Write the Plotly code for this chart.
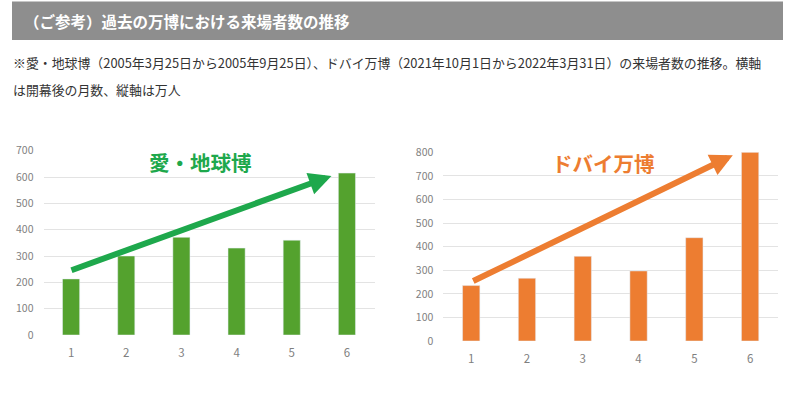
import plotly.graph_objects as go

months = [1, 2, 3, 4, 5, 6]
aichi_visitors = [213, 300, 371, 330, 360, 615]
dubai_visitors = [235, 266, 359, 297, 438, 800]
aichi_ticks = [0, 100, 200, 300, 400, 500, 600, 700]
dubai_ticks = [0, 100, 200, 300, 400, 500, 600, 700, 800]

header_text = "（ご参考）過去の万博における来場者数の推移"
note_line1 = "※愛・地球博（2005年3月25日から2005年9月25日）、ドバイ万博（2021年10月1日から2022年3月31日）の来場者数の推移。横軸"
note_line2 = "は開幕後の月数、縦軸は万人"
aichi_label = "愛・地球博"
dubai_label = "ドバイ万博"

GREEN_BAR = "#54A22E"
GREEN_TXT = "#1EA84C"
ORANGE = "#ED7D31"
FONT = "Noto Sans CJK JP"
W, H = 800, 397

def px_x(p):
    return p / W

def px_y(p):
    return 1 - p / H

fig = go.Figure()
fig.add_trace(go.Bar(x=months, y=aichi_visitors, marker_color=GREEN_BAR, width=0.31,
                     xaxis="x", yaxis="y", showlegend=False, hoverinfo="skip"))
fig.add_trace(go.Bar(x=months, y=dubai_visitors, marker_color=ORANGE, width=0.31,
                     xaxis="x2", yaxis="y2", showlegend=False, hoverinfo="skip"))

xcommon = dict(showline=False, zeroline=False, ticks="", automargin=False,
               showgrid=False, ticklabelstandoff=9,
               tickfont=dict(family=FONT, size=11.5, color="#7f7f7f"))
ycommon = dict(showline=False, zeroline=False, ticks="", automargin=False,
               showgrid=True, gridcolor="#e3e3e3", gridwidth=1, ticklabelstandoff=9,
               tickfont=dict(family=FONT, size=10.5, color="#7f7f7f"))
fig.update_layout(
    width=W, height=H,
    margin=dict(l=0, r=0, t=0, b=0, pad=0),
    paper_bgcolor="white", plot_bgcolor="white",
    font=dict(family=FONT),
    xaxis=dict(domain=[px_x(43.5), px_x(374.5)], range=[0.5, 6.5], tickvals=months,
               anchor="y", **xcommon),
    yaxis=dict(domain=[px_y(335), px_y(150.7)], range=[0, 700], tickvals=aichi_ticks,
               anchor="x", **ycommon),
    xaxis2=dict(domain=[px_x(443.3), px_x(778)], range=[0.5, 6.5], tickvals=months,
                anchor="y2", **xcommon),
    yaxis2=dict(domain=[px_y(341), px_y(152.3)], range=[0, 800], tickvals=dubai_ticks,
                anchor="x2", **ycommon),
)

# header bar
fig.add_shape(type="rect", xref="paper", yref="paper",
              x0=px_x(12), x1=px_x(783), y0=px_y(40), y1=px_y(1.5),
              fillcolor="#8E8E8E", line_width=0, layer="below")

annotations = [
    dict(text="<b>" + header_text + "</b>", xref="paper", yref="paper",
         x=px_x(22), y=px_y(21), xanchor="left", yanchor="middle", showarrow=False,
         font=dict(family=FONT, size=15.5, color="white")),
    dict(text=note_line1, xref="paper", yref="paper",
         x=px_x(11), y=px_y(63), xanchor="left", yanchor="middle", showarrow=False,
         font=dict(family=FONT, size=12.9, color="#333333")),
    dict(text=note_line2, xref="paper", yref="paper",
         x=px_x(11), y=px_y(89), xanchor="left", yanchor="middle", showarrow=False,
         font=dict(family=FONT, size=12.9, color="#333333")),
    dict(text="<b>" + aichi_label + "</b>", xref="paper", yref="paper",
         x=px_x(200), y=px_y(162), xanchor="center", yanchor="middle", showarrow=False,
         font=dict(family=FONT, size=20.5, color=GREEN_TXT)),
    dict(text="<b>" + dubai_label + "</b>", xref="paper", yref="paper",
         x=px_x(603), y=px_y(163), xanchor="center", yanchor="middle", showarrow=False,
         font=dict(family=FONT, size=20.5, color=ORANGE)),
    # trend arrows
    dict(x=5.72, y=604, ax=0.98, ay=244, xref="x", yref="y", axref="x", ayref="y",
         text="", showarrow=True, arrowhead=2, arrowsize=0.75, arrowwidth=6,
         arrowcolor=GREEN_TXT, standoff=0, startstandoff=0),
    dict(x=5.69, y=788, ax=1.01, ay=251, xref="x2", yref="y2", axref="x2", ayref="y2",
         text="", showarrow=True, arrowhead=2, arrowsize=0.75, arrowwidth=6,
         arrowcolor=ORANGE, standoff=0, startstandoff=0),
]
fig.update_layout(annotations=annotations)

post = ("document.body.style.margin='0';document.body.style.padding='0';"
        "document.body.style.overflow='hidden';"
        "var d=document.getElementById('{plot_id}');"
        "d.style.position='fixed';d.style.top='0px';d.style.left='0px';")
fig.write_html("out.html", post_script=post, config={"displayModeBar": False})
